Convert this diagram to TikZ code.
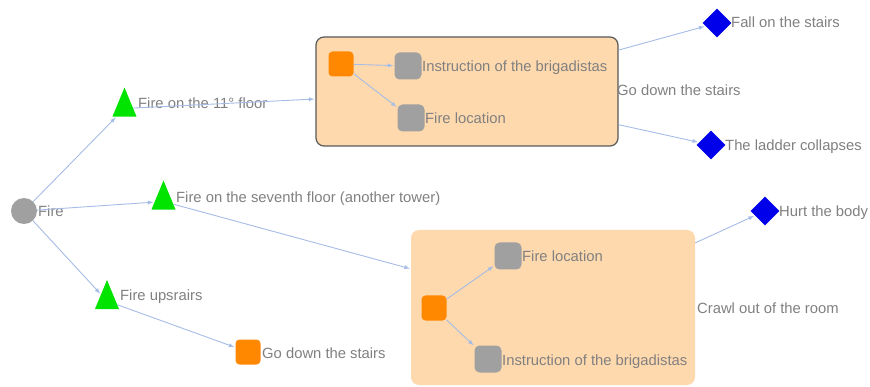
\documentclass[tikz,border=0pt]{standalone}
\usepackage{fontspec}
\setmainfont{Liberation Sans}
\usetikzlibrary{shapes.geometric,arrows}
\definecolor{textgray}{RGB}{128,128,128}
\definecolor{nodegray}{RGB}{160,160,160}
\definecolor{firegreen}{RGB}{0,228,0}
\definecolor{actorange}{RGB}{255,136,0}
\definecolor{resblue}{RGB}{0,0,235}
\definecolor{peach}{RGB}{255,217,174}
\definecolor{edgeblue}{RGB}{165,188,230}
\begin{document}
\begin{tikzpicture}[x=1pt,y=-1pt,
    font=\fontsize{14.8}{17}\selectfont,
    txt/.style={text=textgray, anchor=west, inner sep=0pt, text height=15pt, text depth=3pt},
    start/.style={circle, fill=nodegray, minimum size=26pt, inner sep=0pt},
    cause/.style={isosceles triangle, shape border rotate=90, isosceles triangle stretches,
        fill=firegreen, minimum width=24pt, minimum height=29pt, inner sep=0pt},
    act/.style={rectangle, rounded corners=4pt, fill=actorange, minimum size=25pt, inner sep=0pt},
    info/.style={rectangle, rounded corners=5pt, fill=nodegray, minimum size=27pt, inner sep=0pt},
    result/.style={diamond, fill=resblue, minimum size=29pt, inner sep=0pt},
    group/.style={rectangle, rounded corners=8pt, fill=peach, inner sep=0pt},
    flow/.style={->, >=latex, edgeblue, line width=0.9pt, shorten >=1pt}]
    \useasboundingbox (0,0) rectangle (870,387);

    % groups
    \node[group, draw=black!65, line width=1.2pt, minimum width=302pt, minimum height=109pt] (G1) at (467,91.5) {};
    \node[group, minimum width=284pt, minimum height=155pt] (G2) at (553,307.5) {};

    \node[start] (A) at (24,211) {};
    \node[cause] (B) at (124.5,108.5) {};
    \node[cause] (C) at (163.5,201.5) {};
    \node[cause] (D) at (107,301) {};
    \node[act] (E) at (248,352) {};
    \node[act] (F) at (341,64) {};
    \node[info] (H) at (408,66) {};
    \node[info] (I) at (411,118) {};
    \node[act] (J) at (434,308) {};
    \node[info] (K) at (508,256) {};
    \node[info] (L) at (488,359) {};
    \node[result] (M) at (717,23) {};
    \node[result] (N) at (711,145) {};
    \node[result] (O) at (765,211) {};

    \node[txt] (a) at (38,211) {Fire};
    \node[txt] (b) at (138,103) {Fire on the 11° floor};
    \node[txt] (c) at (176,197) {Fire on the seventh floor (another tower)};
    \node[txt] (d) at (120,295) {Fire upsrairs};
    \node[txt] (e) at (262,352) {Go down the stairs};
    \node[txt] (h) at (422,66) {Instruction of the brigadistas};
    \node[txt] (i) at (425,118) {Fire location};
    \node[txt] (g1) at (617,90) {Go down the stairs};
    \node[txt] (k) at (522,256) {Fire location};
    \node[txt] (l) at (502,359) {Instruction of the brigadistas};
    \node[txt] (g2) at (697,308) {Crawl out of the room};
    \node[txt] (m) at (731,22) {Fall on the stairs};
    \node[txt] (n) at (725,145) {The ladder collapses};
    \node[txt] (o) at (779,211) {Hurt the body};

    \draw (A) edge[flow] (B);
    \draw (A) edge[flow] (C);
    \draw (A) edge[flow] (D);
    \draw (B) edge[flow] (G1);
    \draw (C) edge[flow] (G2);
    \draw (D) edge[flow] (E);
    \draw (F) edge[flow] (H);
    \draw (F) edge[flow] (I);
    \draw (J) edge[flow] (K);
    \draw (J) edge[flow] (L);
    \draw (G1) edge[flow] (M);
    \draw (G1) edge[flow] (N);
    \draw (G2) edge[flow] (O);
\end{tikzpicture}
\end{document}
